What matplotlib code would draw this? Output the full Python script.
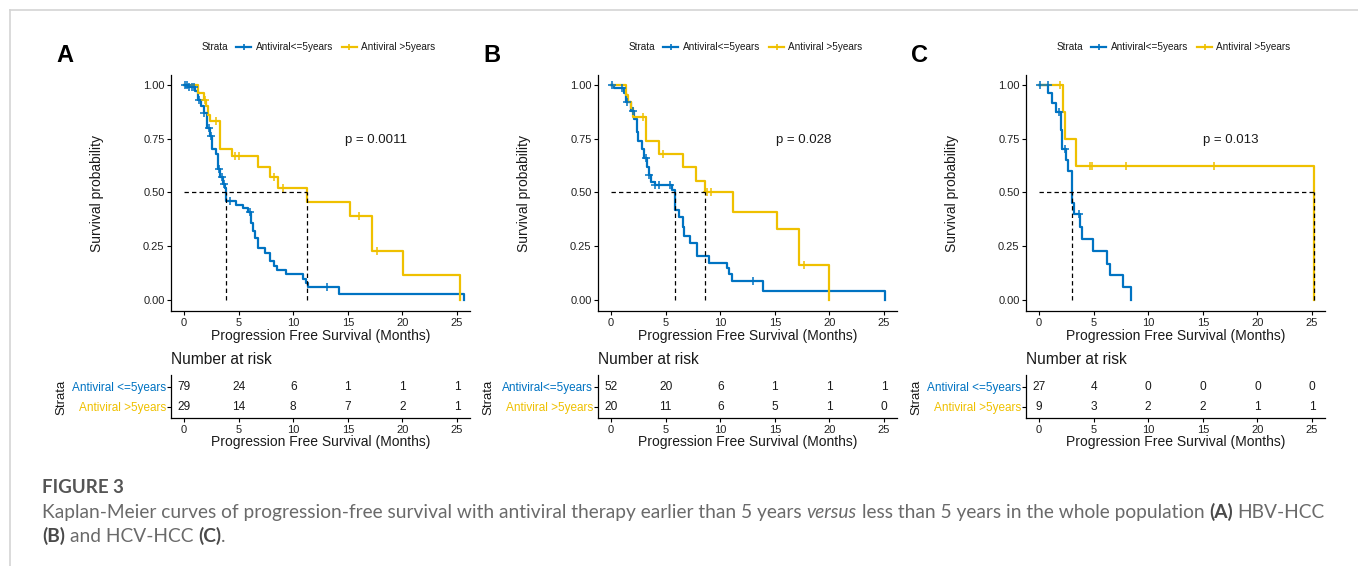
import matplotlib
matplotlib.use("Agg")
import matplotlib.pyplot as plt
import numpy as np
from matplotlib.lines import Line2D

# ---------------- data ----------------
group_labels = ["Antiviral<=5years", "Antiviral >5years"]
risk_times = [0, 5, 10, 15, 20, 25]
x_ticks = [0, 5, 10, 15, 20, 25]
y_ticks = [0.0, 0.25, 0.50, 0.75, 1.00]
y_tick_labels = ["0.00", "0.25", "0.50", "0.75", "1.00"]

# Panel A (whole population)
A_blue_t = [0, 0.4, 1.0, 1.3, 1.6, 1.8, 2.1, 2.4, 2.6, 2.9, 3.1, 3.3, 3.6, 3.75, 3.85,
            4.8, 5.4, 5.9, 6.1, 6.3, 6.5, 6.8, 7.4, 7.9, 8.2, 8.5, 9.3, 10.9, 11.2,
            11.4, 14.2, 25.6]
A_blue_s = [1.0, 0.99, 0.97, 0.93, 0.90, 0.87, 0.80, 0.76, 0.70, 0.68, 0.61, 0.57, 0.54,
            0.52, 0.46, 0.44, 0.43, 0.41, 0.36, 0.32, 0.29, 0.24, 0.22, 0.18, 0.16, 0.14,
            0.12, 0.10, 0.08, 0.06, 0.03, 0.0]
A_blue_cens = [0.1, 0.3, 0.5, 0.7, 0.9, 1.4, 1.8, 2.3, 2.5, 3.2, 3.5, 3.7, 4.2, 6.0, 13.1]
A_yel_t = [0, 1.3, 1.8, 2.0, 2.2, 2.4, 3.3, 4.4, 6.8, 7.9, 8.6, 11.25, 15.2, 17.2, 20.1, 25.25]
A_yel_s = [1.0, 0.96, 0.93, 0.90, 0.86, 0.83, 0.70, 0.67, 0.62, 0.57, 0.52, 0.455, 0.39,
           0.23, 0.115, 0.0]
A_yel_cens = [1.9, 2.9, 4.7, 5.0, 8.2, 9.1, 16.0, 17.7]
A_pval = "p = 0.0011"
A_risk_blue = [79, 24, 6, 1, 1, 1]
A_risk_yel = [29, 14, 8, 7, 2, 1]
A_row_labels = ["Antiviral <=5years", "Antiviral >5years"]

# Panel B (HBV-HCC)
B_blue_t = [0, 0.3, 1.2, 1.4, 1.8, 2.1, 2.4, 2.5, 2.8, 3.0, 3.3, 3.5, 3.7, 4.0, 5.6, 5.9,
            6.2, 6.6, 6.7, 7.2, 7.9, 9.0, 10.6, 10.8, 11.1, 13.9, 25.1]
B_blue_s = [1.0, 0.985, 0.96, 0.92, 0.88, 0.84, 0.78, 0.74, 0.70, 0.66, 0.62, 0.58, 0.55,
            0.535, 0.51, 0.42, 0.385, 0.34, 0.30, 0.265, 0.205, 0.175, 0.15, 0.12, 0.09,
            0.045, 0.0]
B_blue_cens = [0.05, 1.0, 1.5, 2.0, 3.2, 3.5, 4.0, 4.4, 5.4, 13.0]
B_yel_t = [0, 1.4, 1.6, 1.8, 2.0, 3.2, 4.4, 6.6, 7.8, 8.6, 11.2, 15.2, 17.2, 20.0]
B_yel_s = [1.0, 0.95, 0.92, 0.89, 0.85, 0.74, 0.68, 0.62, 0.555, 0.50, 0.41, 0.33, 0.165, 0.0]
B_yel_cens = [2.9, 4.8, 8.8, 9.2, 17.7]
B_pval = "p = 0.028"
B_risk_blue = [52, 20, 6, 1, 1, 1]
B_risk_yel = [20, 11, 6, 5, 1, 0]
B_row_labels = ["Antiviral<=5years", "Antiviral >5years"]

# Panel C (HCV-HCC)
C_blue_t = [0, 0.85, 1.2, 1.6, 2.0, 2.1, 2.5, 2.7, 3.0, 3.05, 3.2, 3.8, 3.9, 4.95, 6.2,
            6.5, 7.7, 8.4]
C_blue_s = [1.0, 0.96, 0.915, 0.875, 0.79, 0.70, 0.65, 0.60, 0.545, 0.45, 0.40, 0.34,
            0.285, 0.23, 0.17, 0.115, 0.06, 0.0]
C_blue_cens = [0.05, 0.8, 1.8, 2.4, 3.7]
C_yel_t = [0, 2.2, 2.35, 3.4, 25.2]
C_yel_s = [1.0, 0.875, 0.75, 0.625, 0.0]
C_yel_cens = [1.9, 4.7, 4.85, 8.0, 16.0]
C_pval = "p = 0.013"
C_risk_blue = [27, 4, 0, 0, 0, 0]
C_risk_yel = [9, 3, 2, 2, 1, 1]
C_row_labels = ["Antiviral <=5years", "Antiviral >5years"]

panel_letters = ["A", "B", "C"]

# ---------------- styling ----------------
BLUE = "#0073C2"
YEL = "#EFC000"
W, H = 1358, 566
plt.rcParams["font.family"] = ["Liberation Sans", "DejaVu Sans"]

fig = plt.figure(figsize=(W / 100, H / 100), dpi=100)


def fx(x):
    return x / W


def fy(y):
    return 1 - y / H


def add_ax(l, t, r, b):
    return fig.add_axes([fx(l), fy(b), (r - l) / W, (b - t) / H])


panels = [
    dict(blue=(A_blue_t, A_blue_s, A_blue_cens), yel=(A_yel_t, A_yel_s, A_yel_cens),
         pval=A_pval, risk=(A_risk_blue, A_risk_yel), rows=A_row_labels),
    dict(blue=(B_blue_t, B_blue_s, B_blue_cens), yel=(B_yel_t, B_yel_s, B_yel_cens),
         pval=B_pval, risk=(B_risk_blue, B_risk_yel), rows=B_row_labels),
    dict(blue=(C_blue_t, C_blue_s, C_blue_cens), yel=(C_yel_t, C_yel_s, C_yel_cens),
         pval=C_pval, risk=(C_risk_blue, C_risk_yel), rows=C_row_labels),
]
offsets = [0, 427, 855]

PPM = (457 - 184) / 25.0
XMIN = -(184 - 171) / PPM
XMAX = (470 - 184) / PPM
TXT = "#1a1a1a"


def surv_at(t, s, c):
    i = np.searchsorted(np.asarray(t), c, side="right") - 1
    return np.asarray(s)[i]


def median_time(t, s):
    t = np.asarray(t)
    s = np.asarray(s)
    idx = np.where(s <= 0.5)[0]
    return t[idx[0]] if len(idx) else None


for k, (p, dx) in enumerate(zip(panels, offsets)):
    # panel letter
    fig.text(fx(65 + dx), fy(55), panel_letters[k], fontsize=17, fontweight="bold",
             ha="center", va="center", color="black")

    # legend
    ly = 47
    fig.text(fx(202 + dx), fy(ly), "Strata", fontsize=7.2, ha="left", va="center", color=TXT)
    for (x0, x1, xl, col, lab) in [(236, 251, 256, BLUE, group_labels[0]),
                                   (342, 357, 361, YEL, group_labels[1])]:
        fig.add_artist(Line2D([fx(x0 + dx), fx(x1 + dx)], [fy(ly), fy(ly)],
                              transform=fig.transFigure, color=col, lw=1.6))
        fig.add_artist(Line2D([fx((x0 + x1) / 2 + dx)], [fy(ly)], transform=fig.transFigure,
                              color=col, marker="+", ms=5, mew=1.2, lw=0))
        fig.text(fx(xl + dx), fy(ly), lab, fontsize=7.2, ha="left", va="center", color=TXT)

    # main KM axes
    ax = add_ax(171 + dx, 75, 470 + dx, 311)
    ax.set_xlim(XMIN, XMAX)
    ax.set_ylim(-0.05, 1.045)
    for side in ["top", "right"]:
        ax.spines[side].set_visible(False)
    for side in ["left", "bottom"]:
        ax.spines[side].set_linewidth(0.9)
        ax.spines[side].set_color("black")
    ax.set_xticks(x_ticks)
    ax.set_yticks(y_ticks)
    ax.set_yticklabels(y_tick_labels)
    ax.tick_params(direction="out", length=2.6, width=0.8, labelsize=8, colors="black",
                   labelcolor="#222222")
    ax.tick_params(axis="x", pad=2.5)
    ax.tick_params(axis="y", pad=2.0)
    ax.patch.set_alpha(0)

    meds = []
    for key, col in [("blue", BLUE), ("yel", YEL)]:
        t, s, c = p[key]
        ax.step(t, s, where="post", color=col, lw=1.6, zorder=3)
        cy = [surv_at(t, s, ci) for ci in c]
        ax.plot(c, cy, ls="none", marker="+", ms=6, mew=1.1, color=col, zorder=4)
        m = median_time(t, s)
        if m is not None:
            meds.append(m)
    if meds:
        ax.plot([0, max(meds)], [0.5, 0.5], ls=(0, (3.5, 2.5)), color="black", lw=0.9, zorder=5)
        for m in meds:
            ax.plot([m, m], [0, 0.5], ls=(0, (3.5, 2.5)), color="black", lw=0.9, zorder=5)

    ax.text(17.6, 0.745, p["pval"], fontsize=9.5, ha="center", va="center", color=TXT)

    fig.text(fx(97 + dx), fy(193), "Survival probability", rotation=90, fontsize=10,
             ha="center", va="center", color=TXT)
    fig.text(fx((171 + 470) / 2 + dx), fy(336), "Progression Free Survival (Months)",
             fontsize=10, ha="center", va="center", color=TXT)

    # risk table
    fig.text(fx(171 + dx), fy(360), "Number at risk", fontsize=11.2, ha="left", va="center",
             color=TXT)
    tx = add_ax(171 + dx, 375, 470 + dx, 418)
    tx.set_xlim(XMIN, XMAX)
    tx.set_ylim(0.45, 2.6)
    for side in ["top", "right"]:
        tx.spines[side].set_visible(False)
    for side in ["left", "bottom"]:
        tx.spines[side].set_linewidth(0.9)
    tx.set_xticks(x_ticks)
    tx.set_yticks([2, 1])
    tx.set_yticklabels(p["rows"])
    for lbl, col in zip(tx.get_yticklabels(), [BLUE, YEL]):
        lbl.set_color(col)
    tx.tick_params(direction="out", length=2.6, width=0.8, labelsize=8, colors="black")
    tx.tick_params(axis="x", pad=2.5, labelcolor="#222222")
    tx.tick_params(axis="y", labelsize=8.5, pad=1.0)
    for lbl, col in zip(tx.get_yticklabels(), [BLUE, YEL]):
        lbl.set_color(col)
    tx.patch.set_alpha(0)
    rb, ry = p["risk"]
    for tt, nb, ny in zip(risk_times, rb, ry):
        tx.text(tt, 2, str(nb), ha="center", va="center", fontsize=8.6, color=TXT)
        tx.text(tt, 1, str(ny), ha="center", va="center", fontsize=8.6, color=TXT)
    fig.text(fx(61 + dx), fy(397), "Strata", rotation=90, fontsize=9.5, ha="center",
             va="center", color=TXT)
    fig.text(fx((171 + 470) / 2 + dx), fy(442), "Progression Free Survival (Months)",
             fontsize=10, ha="center", va="center", color=TXT)

# frame lines
fig.add_artist(Line2D([fx(10), 1.0], [fy(10), fy(10)], transform=fig.transFigure,
                      color="#d4d4d4", lw=1.2))
fig.add_artist(Line2D([fx(10), fx(10)], [fy(10), 0.0], transform=fig.transFigure,
                      color="#d4d4d4", lw=1.2))

# ---------------- caption ----------------
renderer = fig.canvas.get_renderer()
CAP_FONT = ["Lato", "DejaVu Sans"]
GRAY = "#6a6a6a"
DARK = "#4a4a4a"


def style_kw(st, size):
    kw = dict(family=CAP_FONT, fontsize=size)
    if st == "b":
        kw.update(fontweight="bold", color=DARK)
    elif st == "i":
        kw.update(fontstyle="italic", color=GRAY)
    else:
        kw.update(color=GRAY)
    return kw


def width(s, kw):
    t = fig.text(0, 0, s, **kw)
    w = t.get_window_extent(renderer).width
    t.remove()
    return w


def space_w(kw):
    return width("a a", kw) - width("aa", kw)


def layout_runs(runs, size, x0=None, ybase=None, draw=False):
    x = 0 if x0 is None else x0
    for s, st in runs:
        kw = style_kw(st, size)
        sw = space_w(kw)
        lead = len(s) - len(s.lstrip(" "))
        trail = len(s) - len(s.rstrip(" "))
        core = s.strip(" ")
        x += lead * sw
        if core:
            if draw:
                fig.text(fx(x), fy(ybase), core, ha="left", va="baseline", **kw)
            x += width(core, kw)
        x += trail * sw
    return x


line1 = [("Kaplan-Meier curves of progression-free survival with antiviral therapy earlier than 5 years ", "r"),
         ("versus", "i"),
         (" less than 5 years in the whole population ", "r"),
         ("(A)", "b"),
         (" HBV-HCC", "r")]
line2 = [("(B)", "b"), (" and HCV-HCC ", "r"), ("(C)", "b"), (".", "r")]

base = 12.0
w_base = layout_runs(line1, base)
size = base * (1320 - 42) / w_base
layout_runs(line1, size, x0=42, ybase=518, draw=True)
layout_runs(line2, size, x0=42, ybase=542, draw=True)
fig.text(fx(42), fy(493), "FIGURE 3", family=CAP_FONT, fontsize=13.5, fontweight="bold",
         color="#555555", ha="left", va="baseline")

fig.savefig("out.png", dpi=100)
